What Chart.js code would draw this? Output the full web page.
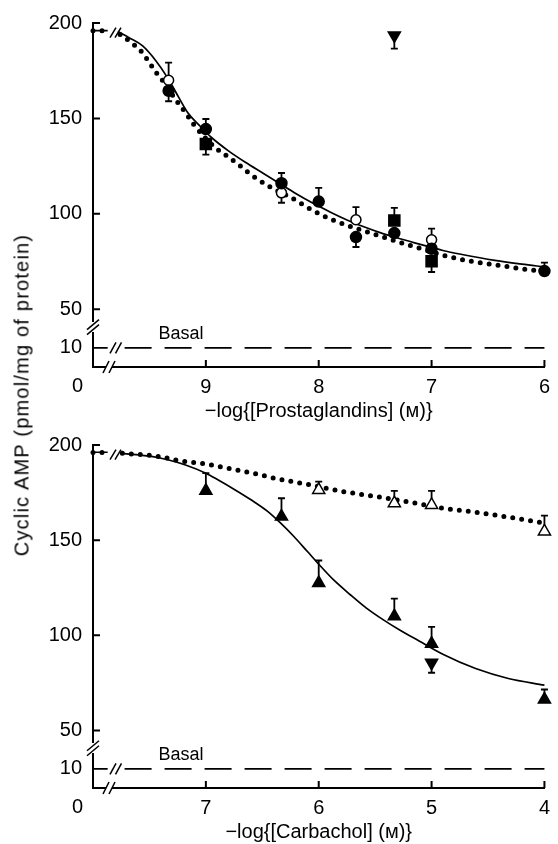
<!DOCTYPE html>
<html><head><meta charset="utf-8">
<script src="https://cdn.jsdelivr.net/npm/chart.js@4.4.1/dist/chart.umd.min.js"></script>
<style>
html,body{margin:0;padding:0;background:#fff;}
#wrap{position:relative;width:558px;height:844px;overflow:hidden;background:#fff;}
.pane{position:absolute;left:0;width:558px;height:421px;}
#ytitle{position:absolute;left:21.5px;top:395px;transform:translate(-50%,-50%) rotate(-90deg);font:20px "Liberation Sans",Arial,sans-serif;letter-spacing:1.2px;white-space:nowrap;color:#000;z-index:5;}
</style></head><body>
<div id="wrap">
<div class="pane" style="top:0"><canvas id="c1" width="558" height="421"></canvas></div>
<div class="pane" style="top:421px"><canvas id="c2" width="558" height="421"></canvas></div>
<div id="ytitle">Cyclic AMP (pmol/mg of protein)</div>
</div>
<script>
const FONT = '"Liberation Sans", Arial, sans-serif';

// ---------- Upper panel: prostaglandins ----------
const pgXTicks = [9, 8, 7, 6];
const pgTitle = '\u2212log{[Prostaglandins] (\u1D0D)}';
const pgSolidX = [10, 9.87, 9.83, 9.78, 9.68, 9.56, 9.44, 9.34, 9.24, 9.16, 9.06, 8.95, 8.8, 8.65, 8.5, 8.35, 8.2, 8.05, 7.9, 7.75, 7.6, 7.45, 7.3, 7.15, 7.05, 6.9, 6.73, 6.44, 6.2, 6.0];
const pgSolidY = [196, 196, null, 195.5, 192.3, 188, 180, 171.4, 161, 153, 146.5, 140, 133, 127, 121.5, 116, 110.5, 105.5, 101, 96.8, 93.2, 90, 87.3, 84.8, 83.2, 80.8, 78.7, 75.6, 73.6, 72.2];
const pgDotX = [10, 9.87, 9.82, 9.76, 9.68, 9.57, 9.52, 9.44, 9.37, 9.27, 9.18, 9.11, 8.92, 8.83, 8.71, 8.6, 8.45, 8.2, 8.06, 7.9, 7.75, 7.52, 7.29, 7.12, 6.89, 6.64, 6.41, 6.09, 6.0];
const pgDotY = [196, 196, null, 194, 190.6, 185, 181, 174, 168.8, 160, 153, 147, 134.8, 131, 125.8, 120.5, 114.8, 107, 102, 97.4, 94, 89.5, 85.2, 82.2, 78.2, 75, 73, 70.4, 70];
const pgFilledCircX = [9.33, 9.0, 8.33, 8.0, 7.67, 7.33, 7.0, 6.0];
const pgFilledCircY = [164.5, 144.4, 116, 106.4, 87.8, 89.9, 81.7, 70.0];
const pgFilledCircErr = [159, 149.7, 121.4, 113.6, 82.6, null, null, 74.4];
const pgOpenCircX = [9.33, 8.33, 7.67, 7.0];
const pgOpenCircY = [170, 111, 96.9, 86.4];
const pgOpenCircErr = [179.2, 105.8, 103.5, 92.2];
const pgSquareX = [9.0, 7.33, 7.0];
const pgSquareY = [136.6, 96.5, 75.1];
const pgSquareErr = [131, 103.1, 69.5];
const pgInvTriX = [7.33];
const pgInvTriY = [193.5];
const pgInvTriErr = [186.6];
const pgBasalX = [10, 9.87, 9.8, 9.72, 6];
const pgBasalY = [10, 10, null, 10, 10];

// ---------- Lower panel: carbachol ----------
const cbXTicks = [7, 6, 5, 4];
const cbTitle = '\u2212log{[Carbachol] (\u1D0D)}';
const cbSolidX = [8, 7.87, 7.8, 7.74, 7.47, 7.33, 7.18, 7.0, 6.89, 6.74, 6.6, 6.45, 6.33, 6.22, 6.1, 6.01, 5.87, 5.72, 5.58, 5.43, 5.29, 5.14, 4.9, 4.61, 4.32, 4.0];
const cbSolidY = [196.2, 196.2, null, 195.6, 193.9, 192.1, 189.5, 185.2, 181.6, 176.4, 171.2, 165, 158.5, 151.9, 144, 138, 129.2, 121.3, 114.4, 108.2, 103, 98, 90, 82.5, 77.3, 73.8];
const cbDotX = [8, 7.87, 7.8, 7.74, 7.41, 7.24, 7.0, 6.77, 6.54, 6.39, 6.07, 5.78, 5.49, 5.14, 4.9, 4.61, 4.32, 4.03, 4.0];
const cbDotY = [196, 196, null, 195.7, 193.9, 191.8, 190, 187.4, 184.6, 182.5, 179, 175.5, 172.9, 169.4, 166.8, 164.7, 162.1, 159.3, 159];
const cbFilledTriX = [7.0, 6.33, 6.0, 5.33, 5.0, 4.0];
const cbFilledTriY = [176, 162.4, 127.5, 110, 95.6, 66.3];
const cbFilledTriErr = [185.2, 172, 139.3, 119.3, 104.4, 71.5];
const cbOpenTriX = [6.0, 5.33, 5.0, 4.0];
const cbOpenTriY = [176.4, 169.4, 168.5, 154.6];
const cbOpenTriErr = [180.8, 175.9, 175.9, 162.9];
const cbInvTriX = [5.0];
const cbInvTriY = [85.5];
const cbInvTriErr = [80.3];
const cbBasalX = [8, 7.87, 7.8, 7.72, 4];
const cbBasalY = [10, 10, null, 10, 10];

// ---------- shared axis ticks ----------
const mainYTicks = [50, 100, 150, 200];
const lowYTicks = [10];

function pts(xs, ys) { return xs.map((x, i) => ({ x: x, y: ys[i] })); }

function marker(xs, ys, errs, style, extra) {
  return Object.assign({
    data: pts(xs, ys), errTip: errs, yAxisID: 'y', showLine: false,
    pointStyle: style, pointRadius: 5, pointBackgroundColor: '#000',
    pointBorderColor: '#000', pointBorderWidth: 1.5, clip: false
  }, extra || {});
}
function solid(xs, ys) {
  return { data: pts(xs, ys), yAxisID: 'y', showLine: true, borderColor: '#000', borderWidth: 1.7,
    pointRadius: 0, cubicInterpolationMode: 'monotone', spanGaps: false, clip: false };
}
function dotted(xs, ys) {
  return { data: pts(xs, ys), yAxisID: 'y', showLine: true, borderColor: '#000', borderWidth: 5,
    borderDash: [0, 9], borderCapStyle: 'round', pointRadius: 0, cubicInterpolationMode: 'monotone',
    spanGaps: false, clip: false };
}
function basal(xs, ys) {
  return { data: pts(xs, ys), yAxisID: 'yLow', showLine: true, borderColor: '#000', borderWidth: 1.7,
    borderDash: [27, 13], pointRadius: 0, spanGaps: false, clip: false };
}

const deco = {
  id: 'deco',
  beforeDatasetsDraw(chart) {
    const ctx = chart.ctx, xs = chart.scales.x;
    ctx.save();
    ctx.strokeStyle = '#000'; ctx.lineWidth = 1.8;
    chart.data.datasets.forEach(ds => {
      if (!ds.errTip) return;
      const ys = chart.scales[ds.yAxisID];
      ds.data.forEach((p, j) => {
        const tip = ds.errTip[j];
        if (tip == null) return;
        const px = xs.getPixelForValue(p.x), py = ys.getPixelForValue(p.y), ty = ys.getPixelForValue(tip);
        ctx.beginPath();
        ctx.moveTo(px, py); ctx.lineTo(px, ty);
        ctx.moveTo(px - 3.5, ty); ctx.lineTo(px + 3.5, ty);
        ctx.stroke();
      });
    });
    ctx.restore();
  },
  afterDraw(chart, args, o) {
    const ctx = chart.ctx, xs = chart.scales.x, ym = chart.scales.y, yl = chart.scales.yLow;
    const L = chart.chartArea.left, B = chart.chartArea.bottom;
    ctx.save();
    ctx.strokeStyle = '#000';
    ctx.lineWidth = 2;
    ctx.beginPath();
    xs.ticks.forEach(t => { const px = xs.getPixelForValue(t.value); ctx.moveTo(px, B); ctx.lineTo(px, B - 7); });
    ym.ticks.forEach(t => { const py = ym.getPixelForValue(t.value); ctx.moveTo(L, py); ctx.lineTo(L + 7, py); });
    ctx.stroke();
    const slash = (cx, cy, dx, dy) => { ctx.beginPath(); ctx.moveTo(cx - dx, cy + dy); ctx.lineTo(cx + dx, cy - dy); ctx.stroke(); };
    // x-axis break
    ctx.fillStyle = '#fff';
    ctx.fillRect(L + 13, B - 3, 6, 6);
    ctx.lineWidth = 1.5;
    slash(L + 13, B, 3, 6); slash(L + 19, B, 3, 6);
    // y-axis break
    const yb = (ym.bottom + yl.top) / 2;
    slash(L, yb - 2.5, 6, 5); slash(L, yb + 2.5, 6, 5);
    // curve break
    const cy = ym.getPixelForValue(o.plateau) + 2;
    slash(L + 20, cy, 3, 5); slash(L + 25, cy, 3, 5);
    // basal break
    const by = yl.getPixelForValue(o.basal);
    slash(L + 20, by, 3, 5.5); slash(L + 25.5, by, 3, 5.5);
    // texts
    ctx.fillStyle = '#000';
    ctx.font = '18px ' + FONT;
    ctx.textAlign = 'center'; ctx.textBaseline = 'alphabetic';
    ctx.fillText(o.basalLabel, L + 88, by - 9);
    ctx.font = '20px ' + FONT;
    ctx.textAlign = 'right'; ctx.textBaseline = 'middle';
    ctx.fillText(o.zeroLabel, L - 10, B + 19.5);
    ctx.restore();
  }
};

function makeChart(id, topPad, xMin, xMax, xTicks, title, datasets) {
  return new Chart(document.getElementById(id), {
    type: 'scatter',
    data: { datasets: datasets },
    plugins: [deco],
    options: {
      responsive: false, animation: false, events: [],
      layout: { padding: { top: topPad, right: 9, bottom: 0, left: 0 } },
      plugins: {
        legend: { display: false }, tooltip: { enabled: false },
        deco: { plateau: 196, basal: 10, basalLabel: 'Basal', zeroLabel: '0' }
      },
      scales: {
        x: {
          type: 'linear', reverse: true, min: xMin, max: xMax, position: 'bottom',
          grid: { display: false, drawTicks: false },
          border: { display: true, color: '#000', width: 2 },
          ticks: { color: '#000', font: { family: FONT, size: 20, lineHeight: 1.2 }, padding: 8, maxRotation: 0, autoSkip: false },
          title: { display: true, text: title, color: '#000', font: { family: FONT, size: 20, lineHeight: 1 }, padding: { top: 0, bottom: 0 } },
          afterBuildTicks: s => { s.ticks = xTicks.map(v => ({ value: v })); },
          afterFit: s => { s.height = 54; }
        },
        y: {
          type: 'linear', position: 'left', stack: 'left', stackWeight: 299.5, weight: 3, min: 43.5, max: 200,
          grid: { display: false, drawTicks: false },
          border: { display: true, color: '#000', width: 2 },
          ticks: { color: '#000', font: { family: FONT, size: 20 }, padding: 11 },
          afterBuildTicks: s => { s.ticks = mainYTicks.map(v => ({ value: v })); },
          afterFit: s => { s.width = 93; }
        },
        yGap: {
          type: 'linear', position: 'left', stack: 'left', stackWeight: 11, weight: 2, min: 0, max: 1,
          grid: { display: false, drawTicks: false }, border: { display: false }, ticks: { display: false },
          afterFit: s => { s.width = 93; }
        },
        yLow: {
          type: 'linear', position: 'left', stack: 'left', stackWeight: 34.5, weight: 1, min: 0, max: 18,
          grid: { display: false, drawTicks: false },
          border: { display: true, color: '#000', width: 2 },
          ticks: { color: '#000', font: { family: FONT, size: 20 }, padding: 11 },
          afterBuildTicks: s => { s.ticks = lowYTicks.map(v => ({ value: v })); },
          afterFit: s => { s.width = 93; }
        }
      }
    }
  });
}

makeChart('c1', 22, 6, 10, pgXTicks, pgTitle, [
  marker(pgFilledCircX, pgFilledCircY, pgFilledCircErr, 'circle', { pointRadius: 5.5 }),
  marker(pgSquareX, pgSquareY, pgSquareErr, 'rect', { pointRadius: 7.8 }),
  marker(pgOpenCircX, pgOpenCircY, pgOpenCircErr, 'circle', { pointRadius: 5, pointBackgroundColor: '#fff' }),
  marker(pgInvTriX, pgInvTriY, pgInvTriErr, 'triangle', { pointRadius: 7, pointRotation: 180 }),
  solid(pgSolidX, pgSolidY),
  dotted(pgDotX, pgDotY),
  basal(pgBasalX, pgBasalY)
]);

makeChart('c2', 24, 4, 8, cbXTicks, cbTitle, [
  marker(cbFilledTriX, cbFilledTriY, cbFilledTriErr, 'triangle', { pointRadius: 7 }),
  marker(cbOpenTriX, cbOpenTriY, cbOpenTriErr, 'triangle', { pointRadius: 7, pointBackgroundColor: '#fff' }),
  marker(cbInvTriX, cbInvTriY, cbInvTriErr, 'triangle', { pointRadius: 7, pointRotation: 180 }),
  solid(cbSolidX, cbSolidY),
  dotted(cbDotX, cbDotY),
  basal(cbBasalX, cbBasalY)
]);
</script>
</body></html>
